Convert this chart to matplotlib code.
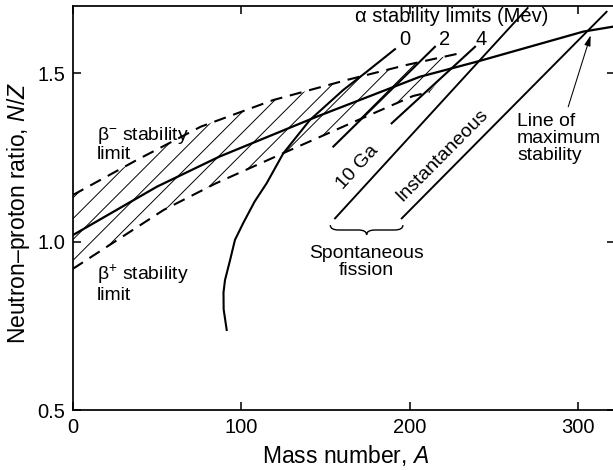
import numpy as np
import matplotlib
matplotlib.use('Agg')
import matplotlib.pyplot as plt
from matplotlib.path import Path
from matplotlib.patches import PathPatch

plt.rcParams['font.family'] = ['Liberation Sans', 'DejaVu Sans']
plt.rcParams['mathtext.fontset'] = 'custom'
plt.rcParams['mathtext.rm'] = 'Liberation Sans'
plt.rcParams['mathtext.it'] = 'Liberation Sans:italic'
plt.rcParams['hatch.linewidth'] = 0.55
plt.rcParams['lines.scale_dashes'] = False

# ── data ─────────────────────────────────────────────────────────────────────
# line of maximum stability
A_MAX  = [0, 50, 87, 145, 206, 240, 303, 321]
NZ_MAX = [1.02, 1.164, 1.253, 1.372, 1.49, 1.535, 1.624, 1.639]

# beta- (upper) and beta+ (lower) stability limits
A_BMINUS  = [0, 38, 76, 119, 163, 198, 230]
NZ_BMINUS = [1.139, 1.243, 1.342, 1.421, 1.481, 1.525, 1.56]
A_BPLUS   = [0, 54, 85, 127, 165, 202, 212]
NZ_BPLUS  = [0.92, 1.095, 1.174, 1.268, 1.352, 1.433, 1.445]

# alpha stability limits (0, 2, 4 MeV)
A_ALPHA0  = [91.4, 89.6, 89.5, 90.4, 93.4, 96.3, 101.2, 108, 115.1, 125, 140.8, 160.6, 174.5, 191.3]
NZ_ALPHA0 = [0.739, 0.800, 0.850, 0.887, 0.946, 1.006, 1.056, 1.120, 1.174, 1.263, 1.362, 1.451, 1.505, 1.572]
A_ALPHA2  = [154.7, 215]
NZ_ALPHA2 = [1.283, 1.579]
A_ALPHA4  = [189.3, 238.8]
NZ_ALPHA4 = [1.352, 1.579]
ALPHA_LABELS = ['0', '2', '4']

# spontaneous fission: 10 Ga and instantaneous
A_FISS10  = [155.7, 270]
NZ_FISS10 = [1.070, 1.694]
A_FISSI   = [195.3, 316.9]
NZ_FISSI  = [1.070, 1.683]

XTICKS = [0, 100, 200, 300]
YTICKS = [0.5, 1.0, 1.5]

# ── figure ───────────────────────────────────────────────────────────────────
DPI = 125
fig = plt.figure(figsize=(613 / DPI, 470 / DPI), dpi=DPI)
ax = fig.add_axes([0.1186, 0.1266, 0.885, 0.8606])
ax.set_xlim(0, 322)
ax.set_ylim(0.5, 1.70)

# hatched band between the beta limits
band_x = A_BMINUS + A_BPLUS[::-1]
band_y = NZ_BMINUS + NZ_BPLUS[::-1]
ax.fill(band_x, band_y, facecolor='none', edgecolor='black', lw=0,
        hatch='//', zorder=1)

dash = (0, (7, 4.5))
ax.plot(A_BMINUS, NZ_BMINUS, color='black', lw=1.2, ls=dash, zorder=3)
ax.plot(A_BPLUS, NZ_BPLUS, color='black', lw=1.2, ls=dash, zorder=3)

ax.plot(A_MAX, NZ_MAX, color='black', lw=1.3, zorder=4,
        solid_joinstyle='round')

for xs, ys in [(A_ALPHA0, NZ_ALPHA0), (A_ALPHA2, NZ_ALPHA2),
               (A_ALPHA4, NZ_ALPHA4)]:
    ax.plot(xs, ys, color='black', lw=1.2, zorder=4, solid_joinstyle='round')
ax.plot(A_FISS10, NZ_FISS10, color='black', lw=1.1, zorder=4)
ax.plot(A_FISSI, NZ_FISSI, color='black', lw=1.1, zorder=4)

# ── annotations ──────────────────────────────────────────────────────────────
FS = 11.2
ax.text(14.4, 1.291, 'β$^{-}$ stability\nlimit', fontsize=FS,
        ha='left', va='center', linespacing=1.05)
ax.text(14.4, 0.878, 'β$^{+}$ stability\nlimit', fontsize=FS,
        ha='left', va='center', linespacing=1.05)

ax.text(167.5, 1.668, 'α stability limits (Mev)', fontsize=11.6,
        ha='left', va='center')
for lab, xpos in zip(ALPHA_LABELS, [197.3, 221.0, 242.5]):
    ax.text(xpos, 1.600, lab, fontsize=11.6, ha='center', va='center')

ax.text(168.9, 1.222, '10 Ga', fontsize=FS, rotation=47.5,
        ha='center', va='center', rotation_mode='anchor')
ax.text(219.4, 1.258, 'Instantaneous', fontsize=FS, rotation=45.2,
        ha='center', va='center', rotation_mode='anchor')

# curly brace under the two fission lines
x0, x1, yb, d, q = 152.9, 196.0, 1.050, 0.029, 5.0
xm = (x0 + x1) / 2
verts = [(x0, yb), (x0, yb - d / 2), (x0 + q, yb - d / 2),
         (xm - q, yb - d / 2),
         (xm, yb - d / 2), (xm, yb - d),
         (xm, yb - d / 2), (xm + q, yb - d / 2),
         (x1 - q, yb - d / 2),
         (x1, yb - d / 2), (x1, yb)]
codes = [Path.MOVETO, Path.CURVE3, Path.CURVE3, Path.LINETO,
         Path.CURVE3, Path.CURVE3, Path.CURVE3, Path.CURVE3,
         Path.LINETO, Path.CURVE3, Path.CURVE3]
ax.add_patch(PathPatch(Path(verts, codes), facecolor='none',
                       edgecolor='black', lw=0.8, zorder=4))
ax.text(174.1, 0.941, 'Spontaneous\nfission', fontsize=FS,
        ha='center', va='center', multialignment='center', linespacing=1.0)

ax.text(263.7, 1.306, 'Line of\nmaximum\nstability', fontsize=FS,
        ha='left', va='center', linespacing=1.0)
ax.annotate('', xy=(307.4, 1.613), xytext=(294.1, 1.401),
            arrowprops=dict(arrowstyle='-|>,head_length=0.5,head_width=0.15',
                            color='black', lw=0.6, shrinkA=0, shrinkB=0))

# ── axes formatting ──────────────────────────────────────────────────────────
ax.set_xticks(XTICKS)
ax.set_yticks(YTICKS)
ax.set_xticklabels([str(v) for v in XTICKS])
ax.set_yticklabels([f'{v:.1f}' for v in YTICKS])
ax.tick_params(direction='in', length=4.6, width=0.9, labelsize=11.6,
               top=True, right=True, pad=4.5)
for sp in ax.spines.values():
    sp.set_linewidth(1.0)

ax.set_xlabel('Mass number, $A$', fontsize=13.2)
ax.set_ylabel('Neutron–proton ratio, $N/Z$', fontsize=13.2)
ax.xaxis.set_label_coords(0.504, -0.112)
ax.xaxis.label.set_va('center')
ax.yaxis.set_label_coords(-0.1008, 0.488)
ax.yaxis.label.set_va('center')

fig.savefig('out.png', dpi=DPI, facecolor='white')
